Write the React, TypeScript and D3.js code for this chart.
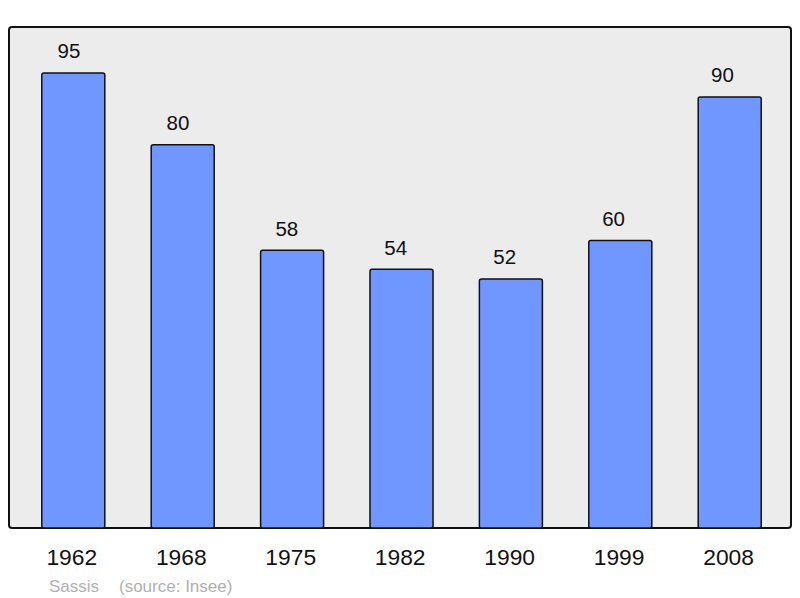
import React from "react";
import * as d3 from "d3";

const years = ["1962", "1968", "1975", "1982", "1990", "1999", "2008"];
const population = [95, 80, 58, 54, 52, 60, 90];
const sourceName = "Sassis";
const sourceText = "(source: Insee)";

export default function App() {
  const W = 800, H = 598;
  const panel = { x: 9, y: 27, w: 782, h: 501 };
  const x = d3.scaleBand<string>().domain(years).range([18.6, 784.4]).paddingInner(0.424).paddingOuter(0.212);
  const labelX = d3.scalePoint<string>().domain(years).range([69, 722.5]);
  const yearX = d3.scalePoint<string>().domain(years).range([71.8, 728.6]);
  const y = d3.scaleLinear().domain([0, 104.6]).range([528, 27]);
  const font = "'Liberation Sans', Arial, sans-serif";
  return (
    <svg width={W} height={H} style={{ position: "absolute", left: 0, top: 0 }} fontFamily={font}>
      <rect x={0} y={0} width={W} height={H} fill="#fff" />
      <rect x={panel.x} y={panel.y} width={panel.w} height={panel.h} rx={3} fill="#ececec" stroke="#111" strokeWidth={2} />
      {years.map((yr, i) => (
        <g key={yr}>
          <rect
            x={x(yr)!}
            y={y(population[i])}
            width={x.bandwidth()}
            height={y(0) - y(population[i])}
            rx={2}
            fill="#7096ff"
            stroke="#111"
            strokeWidth={1.5}
          />
          <text x={labelX(yr)!} y={y(population[i]) - 14.5} textAnchor="middle" fontSize={20.5} fill="#111">
            {population[i]}
          </text>
          <text x={yearX(yr)!} y={565} textAnchor="middle" fontSize={22.8} fill="#111">
            {yr}
          </text>
        </g>
      ))}
      <text x={49} y={592} fontSize={17} fill="#b0b0b0">{sourceName}</text>
      <text x={119} y={592} fontSize={17} fill="#b0b0b0">{sourceText}</text>
    </svg>
  );
}
